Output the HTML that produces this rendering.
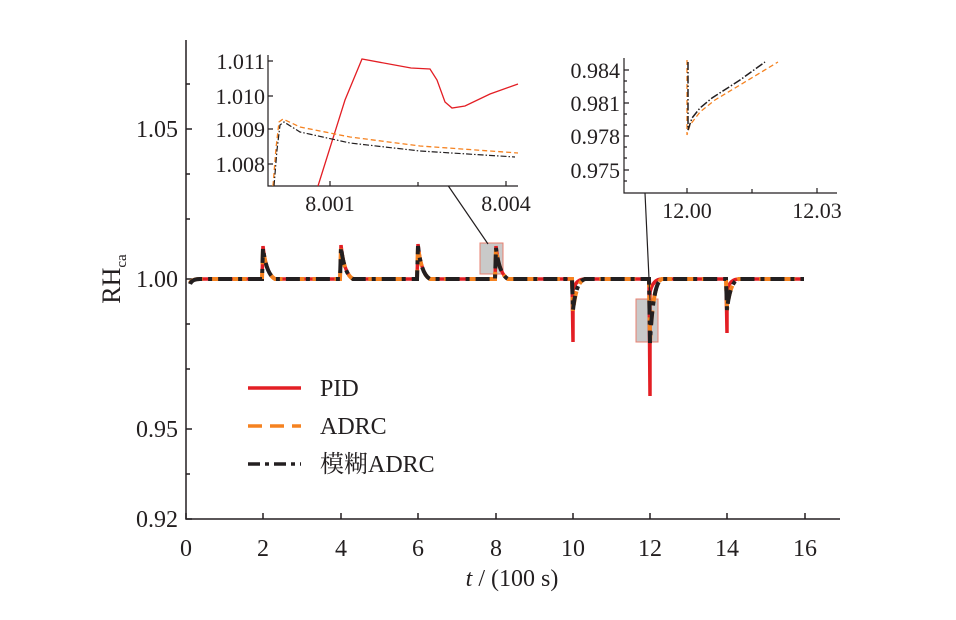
<!DOCTYPE html>
<html><head><meta charset="utf-8"><style>body{margin:0;background:#fff}text{font-family:"Liberation Serif","Noto Serif CJK SC",serif;fill:#231f20}</style></head><body>
<svg width="956" height="615" xmlns="http://www.w3.org/2000/svg">
<g stroke="#231f20" stroke-width="1.5" fill="none">
<path d="M186,40 V519 H840"/>
<path d="M186,129h6M186,279h6M186,429h6M186,519h6M186,84h4M186,174h4M186,219h4M186,324h4M186,369h4M186,474h4"/>
<path d="M186,519v-6M263,519v-6M341,519v-6M418,519v-6M496,519v-6M573,519v-6M650,519v-6M727,519v-6M805,519v-6"/>
</g>
<g font-size="24" text-anchor="end"><text x="178" y="137">1.05</text><text x="178" y="287">1.00</text><text x="178" y="437">0.95</text><text x="178" y="527">0.92</text></g>
<g font-size="24" text-anchor="middle"><text x="186" y="556">0</text><text x="263" y="556">2</text><text x="341" y="556">4</text><text x="418" y="556">6</text><text x="496" y="556">8</text><text x="573" y="556">10</text><text x="650" y="556">12</text><text x="727" y="556">14</text><text x="805" y="556">16</text>
<text x="512" y="586"><tspan font-style="italic">t</tspan> / (100 s)</text></g>
<text transform="translate(120,279) rotate(-90)" font-size="26" text-anchor="middle">RH<tspan font-size="15" dy="6">ca</tspan></text>
<rect x="480" y="243" width="23" height="31" fill="#bbb" fill-opacity="0.8" stroke="#e88070"/>
<rect x="636" y="299" width="22" height="43" fill="#bbb" fill-opacity="0.8" stroke="#e88070"/>
<path d="M190,283 Q192,279 200,279 H262 L263,246 Q266,274 275,279 H340 L341,245 Q344,274 353,279 H417 L418,244 Q421,274 430,279 H495 L496,246 Q499,274 508,279 H572 L573,342 V290 Q576,279 585,279 H649 L650,396 V292 Q653,279 662,279 H726 L727,333 V290 Q730,279 739,279 H804" stroke="#e31e24" stroke-width="3.5" fill="none"/>
<path d="M190,283 Q192,279 200,279 H262 L263,248 Q266,274 275,279 H340 L341,247 Q344,274 353,279 H417 L418,246 Q421,274 430,279 H495 L496,248 Q499,274 508,279 H572 L573,312 Q576,281 585,279 H649 L650,343 Q653,281 662,279 H726 L727,310 Q730,281 739,279 H804" stroke="#f58220" stroke-width="4" fill="none" stroke-dasharray="14 8"/>
<path d="M190,284 Q192,279 200,279 H262 L263,248 Q266,274 275,279 H340 L341,247 Q344,274 353,279 H417 L418,246 Q421,274 430,279 H495 L496,248 Q499,274 508,279 H572 L573,310 Q576,281 585,279 H649 L650,343 Q653,281 662,279 H726 L727,310 Q730,281 739,279 H804" stroke="#231f20" stroke-width="4" fill="none" stroke-dasharray="14 6 4 6"/>
<path d="M447,184 L488,244 M645,193 L650,300" stroke="#231f20" stroke-width="1.2"/>
<rect x="269" y="50" width="250" height="136" fill="#fff"/>
<g stroke="#231f20" stroke-width="1.2" fill="none"><path d="M268,55 V186 H518"/><path d="M268,61h5M268,96h5M268,129h5M268,164h5M330,186v-5M418,186v-4M506,186v-5"/></g>
<g font-size="22" text-anchor="end"><text x="265" y="69">1.011</text><text x="265" y="104">1.010</text><text x="265" y="137">1.009</text><text x="265" y="172">1.008</text></g>
<g font-size="22" text-anchor="middle"><text x="330" y="211">8.001</text><text x="506" y="211">8.004</text></g>
<path d="M318,186 L345,100 L362,59 L411,68 L430,69 L437,80 L445,102 L452,108 L465,106 L490,94 L518,84" stroke="#e31e24" stroke-width="1.3" fill="none"/>
<path d="M273,186 L276,148 L279,122 L283,119 L300,127 L350,137 L420,146 L518,153" stroke="#f58220" stroke-width="1.3" fill="none" stroke-dasharray="5 3"/>
<path d="M274,186 L277,150 L280,125 L284,122 L300,132 L350,143 L420,151 L515,157" stroke="#231f20" stroke-width="1.2" fill="none" stroke-dasharray="6 2 1.5 2"/>
<g stroke="#231f20" stroke-width="1.2" fill="none"><path d="M624,58 V193 H837"/><path d="M624,70h5M624,103h5M624,136h5M624,170h5M624,81h3M624,92h3M624,114h3M624,125h3M624,147h3M624,158h3M624,181h3M687,193v-5M752,193v-4M817,193v-5"/></g>
<g font-size="22" text-anchor="end"><text x="620" y="78">0.984</text><text x="620" y="111">0.981</text><text x="620" y="144">0.978</text><text x="620" y="178">0.975</text></g>
<g font-size="22" text-anchor="middle"><text x="687" y="218">12.00</text><text x="817" y="218">12.03</text></g>
<path d="M687,60 V135 L690,125 L700,112 L715,100 L740,85 L778,62" stroke="#f58220" stroke-width="1.3" fill="none" stroke-dasharray="5 3"/>
<path d="M688,62 V130 L692,118 L700,108 L712,98 L740,80 L765,62" stroke="#231f20" stroke-width="1.5" fill="none" stroke-dasharray="8 2 1.5 2"/>
<path d="M248,388 H301" stroke="#e31e24" stroke-width="3.5"/>
<path d="M248,426 H301" stroke="#f58220" stroke-width="3.5" stroke-dasharray="14 8"/>
<path d="M248,464 H301" stroke="#231f20" stroke-width="3.5" stroke-dasharray="12 5 4 5"/>
<g font-size="24"><text x="320" y="396">PID</text><text x="320" y="434">ADRC</text><text x="320" y="472">模糊ADRC</text></g>
</svg>
</body></html>
